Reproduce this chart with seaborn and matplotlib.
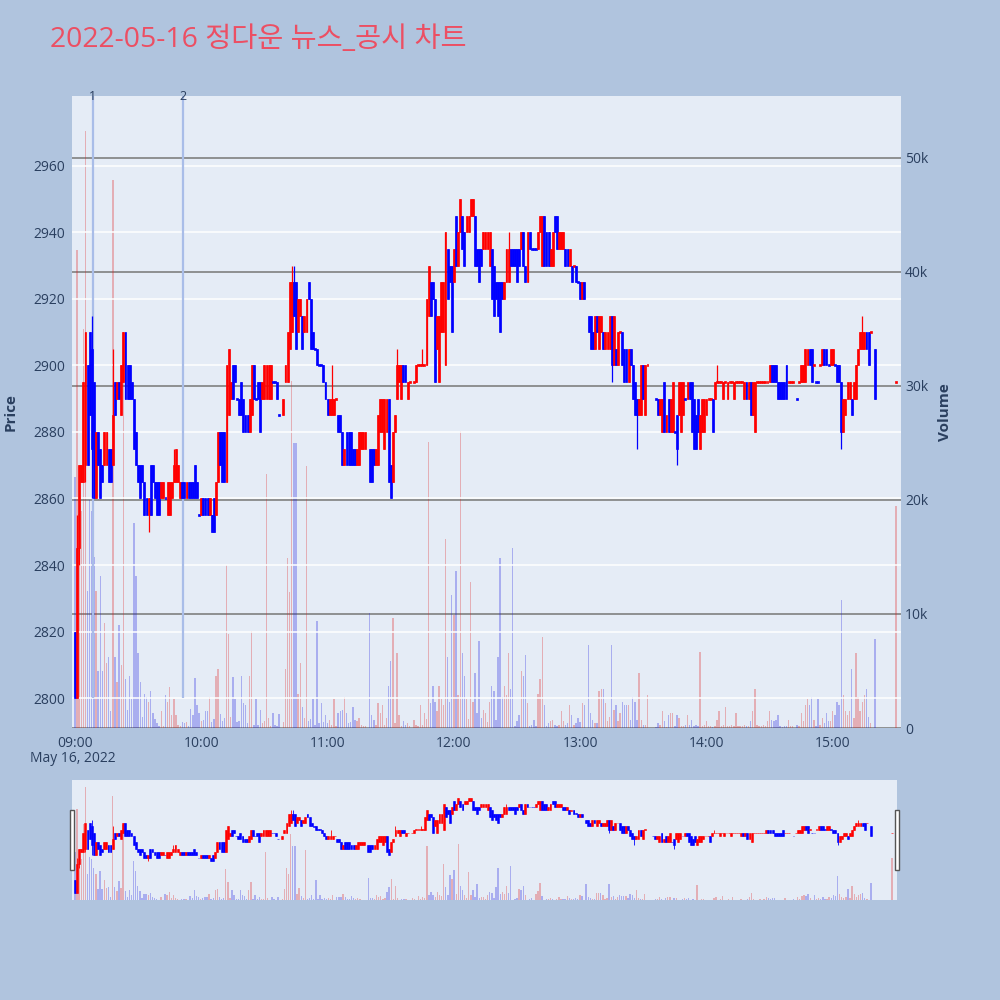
import numpy as np
import pandas as pd
import matplotlib
matplotlib.use("Agg")
import matplotlib.pyplot as plt
from matplotlib.patches import Rectangle
import seaborn as sns

# ---------------- data (minute offsets from 09:00) ----------------
TITLE = "2022-05-16 정다운 뉴스_공시 차트"
HOUR_TICKS = [0, 60, 120, 180, 240, 300, 360]
HOUR_LABELS = ["09:00", "10:00", "11:00", "12:00", "13:00", "14:00", "15:00"]
DATE_LABEL = "May 16, 2022"
PRICE_TICKS = [2800, 2820, 2840, 2860, 2880, 2900, 2920, 2940, 2960]
VOLUME_TICKS = [0, 10000, 20000, 30000, 40000, 50000]
VOLUME_TICK_LABELS = ["0", "10k", "20k", "30k", "40k", "50k"]
EVENT_MINUTES = [8.5, 51.5]
EVENT_LABELS = ["1", "2"]

N = None
OPENS = [
    2820, 2800, 2845, 2865, 2865, 2870, 2900, 2910, 2905, 2895,
    2860, 2880, 2875, 2870, 2870, 2870, 2875, 2875, 2870, 2895,
    2890, 2895, 2885, 2895, 2910, 2900, 2900, 2895, 2890, 2880,
    2870, 2870, 2870, 2865, 2860, 2855, 2870, 2870, 2865, 2865,
    2865, 2860, 2860, 2860, 2855, 2855, 2860, 2865, 2865, 2865,
    2860, 2865, 2865, 2860, 2865, 2865, 2865, 2870, 2865, 2855,
    2855, 2860, 2860, 2860, 2855, 2855, 2860, 2855, 2865, 2880,
    2880, 2880, 2865, 2885, 2890, 2900, 2900, 2890, 2890, 2895,
    2890, 2885, 2885, 2880, 2885, 2900, 2890, 2895, 2895, 2890,
    2890, 2890, 2890, 2890, 2895, 2895, 2895, 2885, N, 2885,
    2895, 2895, 2905, 2910, 2925, 2925, 2910, 2915, 2915, 2910,
    2910, 2925, 2920, 2910, 2905, 2905, 2900, 2900, 2900, 2895,
    2890, 2885, 2885, 2885, 2890, 2885, 2885, 2880, 2870, 2880,
    2880, 2880, 2875, 2875, 2870, 2870, 2875, 2875, 2875, N,
    2875, 2875, 2875, 2870, 2870, 2880, 2880, 2875, 2880, 2890,
    2870, 2865, 2880, 2890, 2895, 2890, 2900, 2900, 2890, 2895,
    N, 2895, 2895, 2900, 2900, 2900, 2900, 2900, 2915, 2925,
    2925, 2920, 2905, 2895, 2910, 2910, 2900, 2935, 2930, 2930,
    2925, 2945, 2930, 2940, 2945, 2940, 2940, 2940, 2945, 2945,
    2945, 2935, 2935, 2935, 2935, 2935, 2935, 2930, 2935, 2930,
    2925, 2925, 2925, 2925, 2920, 2925, 2925, 2935, 2935, 2935,
    2935, 2935, 2935, 2940, 2930, 2925, 2940, 2935, 2935, 2935,
    2935, 2940, 2930, 2945, 2940, 2940, 2930, 2930, 2945, 2945,
    2935, 2935, 2935, 2935, 2935, 2930, 2930, 2930, 2930, 2925,
    2925, 2920, 2925, N, 2915, 2915, 2910, 2905, 2915, 2905,
    2910, 2910, 2905, 2905, 2905, 2915, 2900, 2905, 2900, 2910,
    2910, 2905, 2905, 2895, 2905, 2900, 2895, 2890, 2885, 2885,
    2900, 2885, 2900, N, N, N, 2890, 2890, 2885, 2880,
    2895, 2880, 2890, 2880, 2880, 2880, 2885, 2885, 2880, 2885,
    2890, 2890, 2895, 2895, 2890, 2885, 2890, 2875, 2880, 2880,
    2885, 2890, 2890, 2890, 2890, 2895, 2895, 2895, 2890, 2895,
    2890, 2895, 2895, 2890, 2895, 2895, 2895, 2895, 2890, 2895,
    2890, 2895, 2885, 2880, 2895, 2895, 2895, 2895, 2895, 2895,
    2895, 2900, 2900, 2900, 2895, 2895, 2895, 2895, 2900, 2895,
    2895, 2895, N, 2890, 2895, 2895, 2895, 2895, 2900, 2905,
    2905, 2900, 2895, 2895, 2900, 2900, 2905, 2905, 2900, 2900,
    2900, 2900, 2900, 2900, 2895, 2880, 2885, 2890, 2890, 2890,
    2890, 2890, 2900, 2905, 2905, 2905, 2910, 2910, 2910, N,
    2905, N, N, N, N, N, N, N, N, N,
    2895,
]
CLOSES = [
    2800, 2845, 2870, 2870, 2895, 2910, 2870, 2885, 2875, 2860,
    2880, 2870, 2860, 2865, 2880, 2880, 2865, 2865, 2885, 2885,
    2895, 2890, 2900, 2910, 2890, 2890, 2890, 2890, 2875, 2870,
    2865, 2860, 2865, 2855, 2855, 2860, 2855, 2865, 2860, 2855,
    2855, 2865, 2865, 2860, 2865, 2865, 2865, 2870, 2875, 2870,
    2865, 2860, 2860, 2865, 2860, 2860, 2860, 2860, 2860, 2855,
    2860, 2855, 2855, 2855, 2860, 2850, 2850, 2865, 2880, 2870,
    2865, 2865, 2900, 2905, 2895, 2890, 2895, 2890, 2885, 2885,
    2880, 2880, 2880, 2890, 2900, 2890, 2890, 2890, 2880, 2895,
    2900, 2900, 2900, 2900, 2895, 2895, 2890, 2885, N, 2890,
    2900, 2910, 2925, 2925, 2915, 2905, 2920, 2920, 2905, 2915,
    2920, 2920, 2905, 2905, 2905, 2900, 2900, 2900, 2895, 2890,
    2885, 2890, 2890, 2890, 2890, 2880, 2880, 2870, 2875, 2870,
    2870, 2870, 2870, 2870, 2875, 2880, 2880, 2880, 2880, N,
    2865, 2865, 2870, 2875, 2885, 2890, 2890, 2890, 2890, 2865,
    2860, 2880, 2885, 2900, 2900, 2900, 2895, 2895, 2895, 2895,
    N, 2895, 2900, 2900, 2900, 2900, 2900, 2920, 2930, 2915,
    2920, 2895, 2915, 2915, 2925, 2925, 2940, 2920, 2925, 2910,
    2935, 2930, 2940, 2950, 2935, 2930, 2945, 2945, 2950, 2950,
    2930, 2930, 2925, 2930, 2940, 2940, 2940, 2940, 2920, 2915,
    2920, 2915, 2910, 2920, 2925, 2935, 2935, 2930, 2930, 2930,
    2925, 2930, 2940, 2930, 2925, 2940, 2935, 2935, 2935, 2935,
    2940, 2945, 2945, 2930, 2930, 2930, 2935, 2940, 2940, 2935,
    2940, 2940, 2940, 2930, 2930, 2935, 2925, 2930, 2925, 2925,
    2920, 2925, 2920, N, 2910, 2905, 2905, 2915, 2910, 2915,
    2915, 2905, 2910, 2910, 2915, 2900, 2915, 2900, 2910, 2910,
    2900, 2895, 2895, 2905, 2900, 2890, 2885, 2885, 2890, 2900,
    2890, 2900, 2900, N, N, N, 2890, 2885, 2890, 2890,
    2880, 2885, 2880, 2890, 2895, 2880, 2875, 2895, 2895, 2895,
    2890, 2895, 2890, 2880, 2875, 2875, 2880, 2885, 2890, 2890,
    2890, 2890, 2890, 2880, 2895, 2895, 2895, 2895, 2895, 2895,
    2895, 2895, 2895, 2895, 2895, 2895, 2895, 2895, 2895, 2890,
    2895, 2885, 2895, 2895, 2895, 2895, 2895, 2895, 2895, 2895,
    2900, 2895, 2895, 2895, 2890, 2890, 2890, 2890, 2890, 2895,
    2895, 2895, N, 2890, 2895, 2900, 2900, 2905, 2905, 2900,
    2895, 2900, 2895, 2895, 2900, 2905, 2900, 2900, 2900, 2905,
    2905, 2900, 2895, 2895, 2880, 2890, 2890, 2895, 2895, 2885,
    2895, 2900, 2905, 2910, 2910, 2910, 2905, 2900, 2910, N,
    2890, N, N, N, N, N, N, N, N, N,
    2895,
]
HIGH_WICKS = {1: 2855, 5: 2910, 8: 2915, 18: 2905, 47: 2875, 103: 2930, 104: 2930,
              122: 2900, 153: 2905, 165: 2905, 206: 2940, 305: 2900, 374: 2915}
LOW_WICKS = {2: 2840, 5: 2865, 8: 2860, 35: 2850, 255: 2895, 267: 2875, 286: 2870,
             364: 2875}
VOLUMES_K = [
    22, 41.9, 18.8, 19, 35, 52.3, 12, 20, 19, 15,
    12, 5, 13.3, 5, 9.2, 5.7, 6.2, 1.5, 48, 6.2,
    4, 9, 5.5, 34.7, 4.3, 1.6, 4.6, 2.5, 18, 13.3,
    6.6, 4, 1, 3, 2.7, 2.3, 3.2, 1.3, 0.8, 0.4,
    0.2, 1.5, 0.2, 2.9, 2.3, 3.6, 1.1, 2.5, 1.1, 0.3,
    0.2, 0.5, 0.4, 0.5, 0.2, 1.7, 1.1, 4.4, 2, 1.3,
    0.6, 0.7, 1.5, 1.5, 2.7, 0.5, 0.8, 4.6, 5.2, 1.2,
    0.6, 0.9, 14.3, 8.2, 1.0, 4.5, 2.5, 0.5, 0.6, 4.6,
    2.2, 2, 0.4, 4.6, 8.5, 0.3, 2.5, 0.3, 1.6, 0.4,
    0.6, 22.3, 0.9, 0.2, 1.3, 0.3, 0.2, 1.2, N, 0.5,
    5.2, 14.9, 11.9, 30.4, 25, 25, 3, 5.7, 1.8, 0.9,
    23, 0.6, 0.8, 2.5, 0.3, 9.4, 0.4, 2.2, 0.5, 1.1,
    0.4, 0.7, 0.3, 2.5, 0.2, 1.3, 1.5, 1.6, 2.7, 1.3,
    0.4, 0.5, 1.8, 0.7, 0.6, 0.9, 0.3, 0.2, 0.2, N,
    10.1, 1.1, 0.7, 0.3, 2.2, 1.3, 2, 0.3, 0.9, 3.7,
    5.9, 9.6, 0.4, 6.6, 1.1, 0.2, 0.6, 0.3, 0.4, 0.2,
    N, 0.7, 0.3, 0.2, 2, 0.3, 1.3, 0.8, 25.1, 2.2,
    3.7, 2.3, 1.5, 3.7, 2.5, 2, 16.6, 6.2, 2.3, 11.7,
    9.9, 13.8, 2.9, 26, 6.6, 4.6, 2.5, 0.8, 12.8, 2.3,
    4.8, 1.3, 7.6, 0.9, 1.6, 1.3, 0.5, 2.3, 3.7, 3.2,
    0.7, 6.2, 14.9, 2.7, 3.7, 2.9, 6.6, 3.4, 15.8, 0.2,
    0.6, 1.1, 5, 4.6, 6.4, 2.2, 0.2, 0.3, 0.7, 0.2,
    3, 4.3, 8, 2, 0.2, 0.4, 0.6, 0.7, 0.3, 0.2,
    0.3, 1.5, 0.6, 0.3, 0.4, 2, 1.1, 0.3, 0.4, 0.9,
    0.5, 2.2, 2, N, 7.3, 1.3, 0.7, 0.4, 0.4, 3.2,
    3.4, 3.4, 2.2, 0.6, 1.0, 7.3, 1.6, 2, 0.6, 1.3,
    2.3, 2, 2, 2, 0.7, 2.7, 2.3, 0.7, 4.8, 0.7,
    0.3, 0.3, 2.9, N, N, N, 0.1, 0.4, 0.3, 1.5,
    0.6, 0.1, 1.1, 1.3, 1.3, 0.2, 1.1, 0.9, 0.2, 0.2,
    0.3, 1.1, 0.3, 0.7, 0.2, 0.3, 0.2, 6.7, 0.2, 0.3,
    0.6, 0.2, 0.2, 0.1, 0.2, 0.7, 1.5, 0.2, 0.3, 1.8,
    0.2, 0.2, 0.3, 0.2, 1.3, 0.2, 0.2, 0.2, 0.3, 0.2,
    0.2, 0.6, 1.5, 3.4, 0.3, 0.2, 0.2, 0.3, 0.2, 0.6,
    1.5, 0.7, 0.6, 0.7, 1.1, 0.2, 0.1, 0.2, 0.2, 0.7,
    0.2, 0.2, N, 0.3, 0.2, 1.3, 0.6, 2, 2.5, 2,
    2.7, 0.7, 0.2, 2.5, 0.3, 0.9, 0.4, 1.3, 0.6, 0.6,
    1.5, 1.1, 2.3, 2, 11.2, 2.9, 1.5, 1.1, 1.5, 5.2,
    0.9, 6.6, 2.7, 1.5, 2.3, 2.9, 3.4, 1, 0.4, N,
    7.8, N, N, N, N, N, N, N, N, N,
    19.5,
]

# ---------------- styling ----------------
FIG_BG = "#b0c4de"
PLOT_BG = "#e5ecf6"
RED = "#ff0000"
BLUE = "#0000ff"
TXT = "#2a3f5f"
PRICE_LIM = (2791, 2981)
VOL_LIM = (0, 55400)
X_LIM = (-1.4, 392.4)

sns.set_style("white")
plt.rcParams["font.family"] = ["Open Sans", "Noto Sans CJK KR", "DejaVu Sans"]

df = pd.DataFrame({"minute": np.arange(len(OPENS)), "open": OPENS,
                   "close": CLOSES, "volume": VOLUMES_K})
df = df.dropna(subset=["open"]).reset_index(drop=True)
df["volume"] = df["volume"].astype(float) * 1000
df["high"] = [max(o, c, HIGH_WICKS.get(m, o)) for m, o, c in zip(df.minute, df.open, df.close)]
df["low"] = [min(o, c, LOW_WICKS.get(m, o)) for m, o, c in zip(df.minute, df.open, df.close)]
dirs = []
prev_c, prev_up = None, True
for o, c in zip(df.open, df.close):
    if c > o:
        up = True
    elif c < o:
        up = False
    else:
        up = prev_up if (prev_c is None or c == prev_c) else (c > prev_c)
    dirs.append("up" if up else "down")
    prev_c, prev_up = c, up
df["dir"] = dirs
cols = np.where(df["dir"] == "up", RED, BLUE)


def draw(ax, axv, body_w, wick_lw, edge_lw, vol_alpha, ylim):
    axv.patch.set_visible(True)
    axv.set_facecolor(PLOT_BG)
    ax.set_zorder(axv.get_zorder() + 1)
    ax.patch.set_visible(False)
    sns.barplot(data=df, x="minute", y="volume", hue="dir",
                palette={"up": RED, "down": BLUE}, native_scale=True,
                dodge=False, errorbar=None, width=0.65, alpha=vol_alpha,
                linewidth=0, legend=False, ax=axv)
    ax.vlines(df.minute, df.low, df.high, colors=cols, linewidth=wick_lw, zorder=3)
    doji = (df.close == df.open).to_numpy()
    h = np.where(doji, 0.6, (df.close - df.open).abs())
    b = np.minimum(df.open, df.close) - np.where(doji, 0.3, 0)
    ax.bar(df.minute, h, bottom=b, width=body_w, color=cols, edgecolor=cols,
           linewidth=edge_lw, zorder=4)
    ax.set_xlim(*X_LIM)
    ax.set_ylim(*ylim)
    axv.set_ylim(*VOL_LIM)
    for a in (ax, axv):
        for s in a.spines.values():
            s.set_visible(False)
        a.set_xlabel("")
        a.set_ylabel("")


fig = plt.figure(figsize=(10, 10), dpi=100)
fig.patch.set_facecolor(FIG_BG)

# main chart
ax = fig.add_axes([0.072, 0.272, 0.829, 0.632])
axv = ax.twinx()
draw(ax, axv, 0.9, 0.9, 0.5, 0.3, PRICE_LIM)

ax.set_yticks(PRICE_TICKS)
ax.set_yticklabels([str(t) for t in PRICE_TICKS])
ax.grid(axis="y", color="white", linewidth=1.1)
ax.grid(axis="x", visible=False)
axv.set_yticks(VOLUME_TICKS)
axv.set_yticklabels(VOLUME_TICK_LABELS)
axv.grid(axis="y", color="#808080", linewidth=1.2)
axv.grid(axis="x", visible=False)
ax.set_xticks(HOUR_TICKS)
ax.set_xticklabels(HOUR_LABELS)
for a in (ax, axv):
    a.tick_params(length=0, labelcolor=TXT, labelsize=10)
ax.tick_params(axis="y", pad=5)
axv.tick_params(axis="y", pad=3)
ax.tick_params(axis="x", pad=6)

ax.set_ylabel("Price", fontsize=11, fontweight="bold", color=TXT)
ax.yaxis.set_label_coords(-0.066, 0.5)
axv.set_ylabel("Volume", fontsize=11, fontweight="bold", color=TXT)
axv.yaxis.set_label_coords(1.045, 0.5)

ax.vlines(EVENT_MINUTES, 2800, PRICE_LIM[1], color="#a9bde8", linewidth=1.6, zorder=2)
for m, lab in zip(EVENT_MINUTES, EVENT_LABELS):
    ax.text(m, 1.0, lab, transform=ax.get_xaxis_transform(), ha="center",
            va="center", fontsize=9, color=TXT)

fig.text(0.073, 1 - 758 / 1000, DATE_LABEL, ha="center", va="center",
         fontsize=10, color=TXT)
fig.text(0.05, 0.96, TITLE, ha="left", va="center", fontsize=20.4,
         color="#ec4f63", family=["Open Sans", "Noto Sans CJK KR", "DejaVu Sans"])

# range slider
axs = fig.add_axes([0.072, 0.10, 0.825, 0.12])
axsv = axs.twinx()
draw(axs, axsv, 0.9, 0.6, 0.4, 0.3, (2789, 2978))
for a in (axs, axsv):
    a.set_xticks([])
    a.set_yticks([])
    a.grid(False)

for x0 in (0.0695, 0.8945):
    fig.patches.append(Rectangle((x0, 0.13), 0.0045, 0.06, transform=fig.transFigure,
                                 facecolor="white", edgecolor="#555555", linewidth=1))

fig.savefig("out.png", dpi=100, facecolor=FIG_BG)
